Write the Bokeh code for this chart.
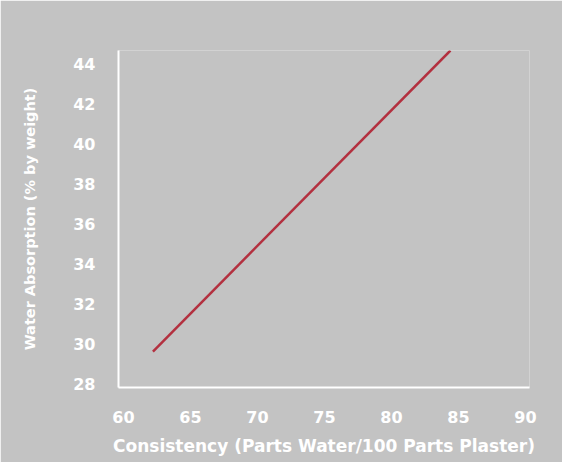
from bokeh.plotting import figure
from bokeh.models import Range1d, FixedTicker
from bokeh.embed import file_html
from bokeh.resources import INLINE

# Data
consistency = [62.2, 84.4]          # Parts Water / 100 Parts Plaster
absorption = [29.6, 44.7]           # Water absorption (% by weight)
x_ticks = [60, 65, 70, 75, 80, 85, 90]
y_ticks = [28, 30, 32, 34, 36, 38, 40, 42, 44]
x_title = "Consistency (Parts Water/100 Parts Plaster)"
y_title = "Water Absorption (% by weight)"

BG = "#c3c3c3"
FONT = "DejaVu Sans"

p = figure(width=562, height=462, output_backend="svg", toolbar_location=None,
           x_range=Range1d(59.63, 90.3), y_range=Range1d(27.8, 44.7),
           min_border_left=118, min_border_right=33, min_border_top=50, min_border_bottom=75)
p.background_fill_color = BG
p.border_fill_color = BG
p.outline_line_color = None
p.grid.visible = False

p.line(consistency, absorption, line_color="#b3303f", line_width=2.5)

for ax in (p.xaxis[0], p.yaxis[0]):
    ax.axis_line_color = "white"
    ax.axis_line_width = 2
    ax.major_tick_line_color = None
    ax.minor_tick_line_color = None
    ax.major_tick_out = 0
    ax.major_tick_in = 0
    ax.minor_tick_out = 0
    ax.major_label_text_color = "white"
    ax.major_label_text_font = FONT
    ax.major_label_text_font_style = "bold"
    ax.major_label_text_font_size = "16px"
    ax.axis_label_text_color = "white"
    ax.axis_label_text_font = FONT
    ax.axis_label_text_font_style = "bold"

p.xaxis.ticker = FixedTicker(ticks=x_ticks)
p.yaxis.ticker = FixedTicker(ticks=y_ticks)
p.xaxis.major_label_standoff = 23
p.yaxis.major_label_standoff = 23
p.xaxis.axis_label = x_title
p.yaxis.axis_label = y_title
p.xaxis.axis_label_text_font_size = "17px"
p.yaxis.axis_label_text_font_size = "14.5px"
p.xaxis.axis_label_standoff = 10
p.yaxis.axis_label_standoff = 32

open("out.html", "w").write(file_html(p, INLINE))
